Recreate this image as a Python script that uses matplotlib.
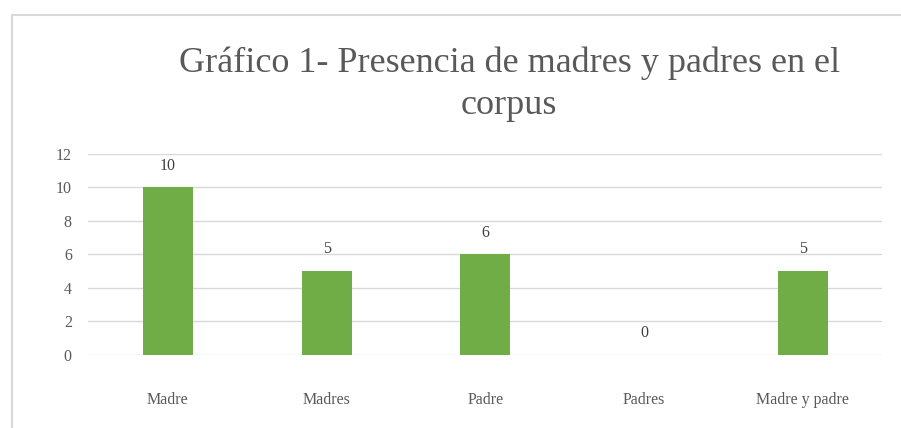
import matplotlib.pyplot as plt
from matplotlib.lines import Line2D

categories = ['Madre', 'Madres', 'Padre', 'Padres', 'Madre y padre']
values = [10, 5, 6, 0, 5]
yticks = [0, 2, 4, 6, 8, 10, 12]

plt.rcParams['font.family'] = ['Liberation Serif', 'DejaVu Serif']

fig = plt.figure(figsize=(9.01, 4.28), dpi=100)
ax = fig.add_axes([0.0982, 0.1706, 0.881, 0.4696])

x = list(range(len(categories)))
bars = ax.bar(x, values, width=0.315, color='#70ad47', zorder=3)
for xi, v in zip(x, values):
    ax.annotate(str(v), (xi, v), xytext=(0, 10), textcoords='offset points',
                ha='center', va='bottom', fontsize=11.5, color='#404040')

ax.set_xlim(-0.5, len(categories) - 0.5)
ax.set_ylim(0, 12)
ax.set_yticks(yticks)
ax.set_xticks(x)
ax.set_xticklabels(categories)
ax.grid(axis='y', color='#d9d9d9', linewidth=1, zorder=0)
for s in ax.spines.values():
    s.set_visible(False)
ax.tick_params(axis='both', length=0, labelsize=11.5, labelcolor='#595959')
ax.tick_params(axis='x', pad=27)
ax.tick_params(axis='y', pad=12)

fig.text(0.565, 0.803, 'Gráfico 1- Presencia de madres y padres en el\ncorpus',
         ha='center', va='center', fontsize=26, color='#595959', linespacing=1.36)

# chart border (left and top edges visible)
fig.add_artist(Line2D([0.0135, 0.0135], [0, 0.965], color='#d9d9d9', lw=1.5,
                      transform=fig.transFigure))
fig.add_artist(Line2D([0.0135, 1], [0.965, 0.965], color='#d9d9d9', lw=1.5,
                      transform=fig.transFigure))

fig.savefig('out.png', dpi=100)
